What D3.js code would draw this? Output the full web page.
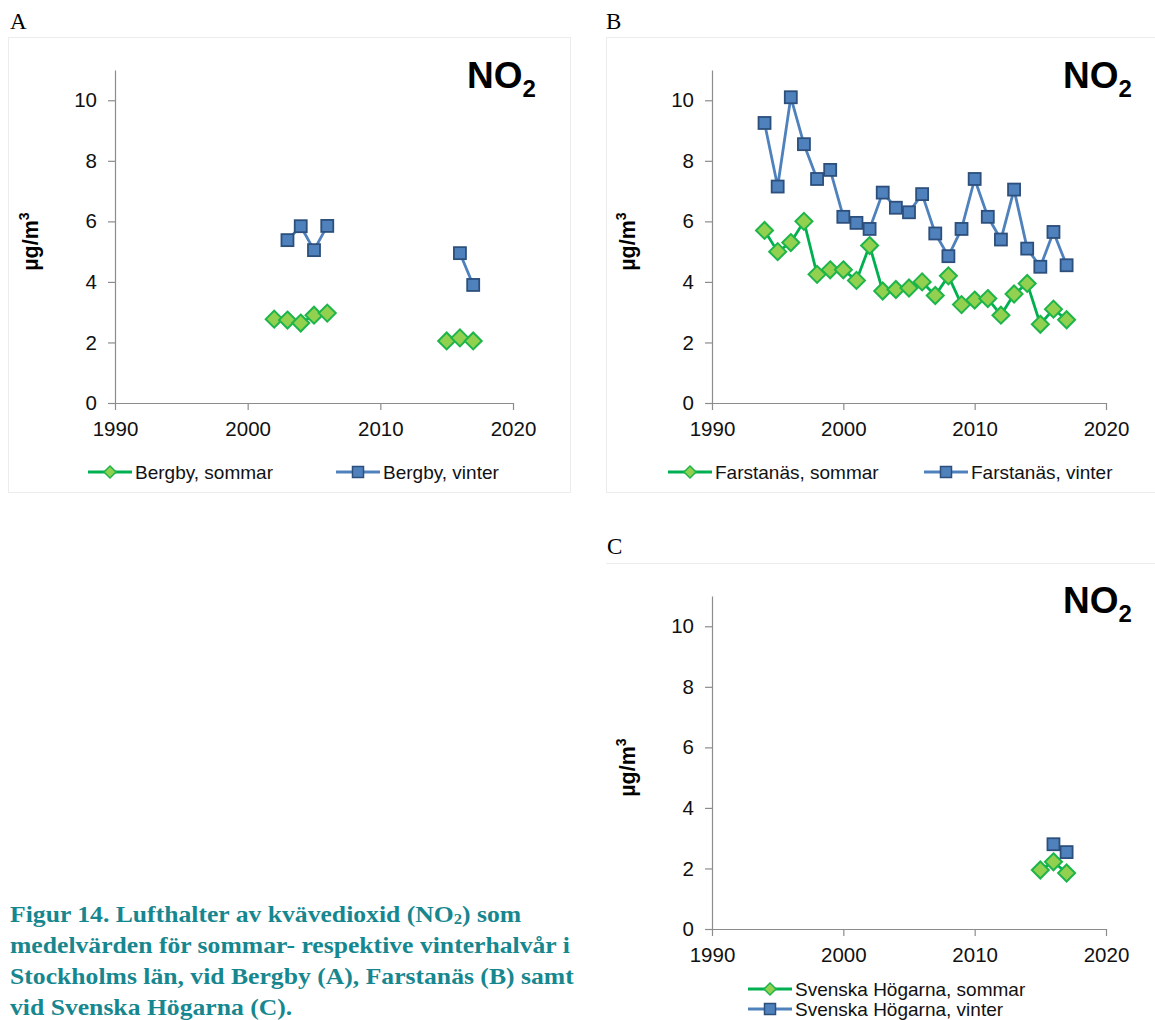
<!DOCTYPE html>
<html>
<head>
<meta charset="utf-8">
<script src="https://cdn.jsdelivr.net/npm/d3@7/dist/d3.min.js"></script>
<style>
  html, body { margin: 0; padding: 0; background: #fff; }
  svg { display: block; }
</style>
</head>
<body>
<svg id="chart" width="1155" height="1020"></svg>
<script>
// ---------- DATA ----------
const yTicks = [0, 2, 4, 6, 8, 10];
const xTicks = [1990, 2000, 2010, 2020];

const bergbyYears   = [2002, 2003, 2004, 2005, 2006, 2007, 2008, 2009, 2010, 2011, 2012, 2013, 2014, 2015, 2016, 2017];
const bergbySommar  = [2.77, 2.74, 2.64, 2.9, 2.97, null, null, null, null, null, null, null, null, 2.05, 2.15, 2.05];
const bergbyVinter  = [null, 5.38, 5.84, 5.05, 5.85, null, null, null, null, null, null, null, null, null, 4.95, 3.9];

const farstanasYears  = [1994, 1995, 1996, 1997, 1998, 1999, 2000, 2001, 2002, 2003, 2004, 2005, 2006, 2007, 2008, 2009, 2010, 2011, 2012, 2013, 2014, 2015, 2016, 2017];
const farstanasSommar = [5.7, 5.0, 5.3, 6.0, 4.25, 4.4, 4.4, 4.05, 5.2, 3.7, 3.75, 3.8, 4.0, 3.55, 4.2, 3.25, 3.4, 3.45, 2.9, 3.6, 3.95, 2.6, 3.1, 2.75];
const farstanasVinter = [9.25, 7.15, 10.1, 8.55, 7.4, 7.7, 6.15, 5.95, 5.75, 6.95, 6.45, 6.3, 6.9, 5.6, 4.85, 5.75, 7.4, 6.15, 5.4, 7.05, 5.1, 4.5, 5.65, 4.55];

const hogarnaYears  = [2015, 2016, 2017];
const hogarnaSommar = [1.95, 2.22, 1.85];
const hogarnaVinter = [null, 2.8, 2.54];

const panelLetters = ["A", "B", "C"];
const seriesNamesA = ["Bergby, sommar", "Bergby, vinter"];
const seriesNamesB = ["Farstanäs, sommar", "Farstanäs, vinter"];
const seriesNamesC = ["Svenska Högarna, sommar", "Svenska Högarna, vinter"];

const captionLines = [
  ["Figur 14. Lufthalter av kvävedioxid (NO", "2", ") som"],
  ["medelvärden för sommar- respektive vinterhalvår i"],
  ["Stockholms län, vid Bergby (A), Farstanäs (B) samt"],
  ["vid Svenska Högarna (C)."]
];

// ---------- STYLE ----------
const GREEN_LINE = "#00b050", GREEN_FILL = "#92d050", GREEN_STROKE = "#1db54a";
const BLUE_LINE = "#4f81bd", BLUE_FILL = "#4f81bd", BLUE_STROKE = "#2c4f7c";
const AXIS = "#8c8c8c";
const FONT = "'Liberation Sans', Arial, sans-serif";

const svg = d3.select("#chart");
svg.append("rect").attr("width", 1155).attr("height", 1020).attr("fill", "#fff");

function diamond(sel, s) {
  return sel.attr("d", `M0,${-s}L${s},0L0,${s}L${-s},0Z`);
}

function drawPanel(cfg) {
  const x = d3.scaleLinear().domain([1990, 2020]).range([cfg.left, cfg.right]);
  const y = d3.scaleLinear().domain([0, 11]).range([cfg.bottom, cfg.top]);
  const g = svg.append("g");

  // axes
  const ya = g.append("g").attr("transform", `translate(${cfg.left},0)`)
    .call(d3.axisLeft(y).tickValues(yTicks).tickSize(7).tickSizeOuter(0).tickPadding(11));
  const xa = g.append("g").attr("transform", `translate(0,${cfg.bottom})`)
    .call(d3.axisBottom(x).tickValues(xTicks).tickFormat(d3.format("d")).tickSize(7).tickSizeOuter(0).tickPadding(11));
  [ya, xa].forEach(a => {
    a.selectAll("path, line").attr("stroke", AXIS).attr("stroke-width", 1.2);
    a.selectAll("text").attr("font-family", FONT).attr("font-size", 20.5).attr("fill", "#111");
  });

  // y label
  const yl = g.append("text")
    .attr("transform", `translate(${cfg.left - 77},${(y(0) + y(10)) / 2 - 10}) rotate(-90)`)
    .attr("text-anchor", "middle").attr("font-family", FONT).attr("font-weight", "bold")
    .attr("font-size", 21.5).attr("fill", "#000");
  yl.append("tspan").text("µg/m");
  yl.append("tspan").attr("font-size", 14).attr("dy", -9).text("3");

  // NO2 title
  const t = g.append("text").attr("x", cfg.titleX).attr("y", cfg.titleY)
    .attr("font-family", FONT).attr("font-weight", "bold").attr("font-size", 37).attr("fill", "#000");
  t.append("tspan").text("NO");
  t.append("tspan").attr("font-size", 24).attr("dy", 9).text("2");

  // data series
  const years = cfg.years;
  const sets = [
    { vals: cfg.sommar, line: GREEN_LINE, fill: GREEN_FILL, stroke: GREEN_STROKE, shape: "d" },
    { vals: cfg.vinter, line: BLUE_LINE, fill: BLUE_FILL, stroke: BLUE_STROKE, shape: "s" }
  ];
  sets.forEach(s => {
    const pts = years.map((yr, i) => ({ yr, v: s.vals[i] }));
    const line = d3.line().defined(d => d.v != null).x(d => x(d.yr)).y(d => y(d.v));
    g.append("path").datum(pts).attr("d", line).attr("fill", "none")
      .attr("stroke", s.line).attr("stroke-width", 2.8).attr("stroke-linejoin", "round");
    const valid = pts.filter(d => d.v != null);
    if (s.shape === "d") {
      g.selectAll(null).data(valid).enter().append("path")
        .call(diamond, 8.5)
        .attr("transform", d => `translate(${x(d.yr)},${y(d.v)})`)
        .attr("fill", s.fill).attr("stroke", s.stroke).attr("stroke-width", 2);
    } else {
      g.selectAll(null).data(valid).enter().append("rect")
        .attr("x", d => x(d.yr) - 6).attr("y", d => y(d.v) - 6)
        .attr("width", 12).attr("height", 12)
        .attr("fill", s.fill).attr("stroke", s.stroke).attr("stroke-width", 1.8);
    }
  });

  // legend
  cfg.legend.forEach((it, i) => {
    const s = sets[i];
    const lg = g.append("g");
    lg.append("line").attr("x1", it.x).attr("x2", it.x + 44).attr("y1", it.y).attr("y2", it.y)
      .attr("stroke", s.line).attr("stroke-width", 2.8);
    if (s.shape === "d") {
      lg.append("path").call(diamond, 6).attr("transform", `translate(${it.x + 22},${it.y})`)
        .attr("fill", s.fill).attr("stroke", s.stroke).attr("stroke-width", 1.5);
    } else {
      lg.append("rect").attr("x", it.x + 22 - 5.5).attr("y", it.y - 5.5).attr("width", 11).attr("height", 11)
        .attr("fill", s.fill).attr("stroke", s.stroke).attr("stroke-width", 1.5);
    }
    lg.append("text").attr("x", it.x + 47).attr("y", it.y + 7)
      .attr("font-family", FONT).attr("font-size", 19).attr("fill", "#111").text(cfg.names[i]);
  });
}

// panel frames (very light)
const frame = "#ececec";
svg.append("rect").attr("x", 8.5).attr("y", 37.5).attr("width", 562).attr("height", 455)
  .attr("fill", "none").attr("stroke", frame);
svg.append("rect").attr("x", 606.5).attr("y", 37.5).attr("width", 560).attr("height", 455)
  .attr("fill", "none").attr("stroke", frame);
svg.append("line").attr("x1", 606).attr("x2", 1155).attr("y1", 563.5).attr("y2", 563.5).attr("stroke", frame);

// panel letters
const letterPos = [[10, 29], [606, 29], [607, 554]];
panelLetters.forEach((L, i) => {
  svg.append("text").attr("x", letterPos[i][0]).attr("y", letterPos[i][1])
    .attr("font-family", "'Liberation Serif', 'Times New Roman', serif").attr("font-size", 23)
    .attr("fill", "#000").text(L);
});

drawPanel({
  left: 115, right: 513, top: 70, bottom: 403, titleX: 467, titleY: 88,
  years: bergbyYears, sommar: bergbySommar, vinter: bergbyVinter, names: seriesNamesA,
  legend: [{ x: 88, y: 472 }, { x: 336, y: 472 }]
});
drawPanel({
  left: 712, right: 1106, top: 70, bottom: 403, titleX: 1063, titleY: 88,
  years: farstanasYears, sommar: farstanasSommar, vinter: farstanasVinter, names: seriesNamesB,
  legend: [{ x: 668, y: 472 }, { x: 924, y: 472 }]
});
drawPanel({
  left: 712, right: 1106, top: 596, bottom: 929, titleX: 1063, titleY: 613,
  years: hogarnaYears, sommar: hogarnaSommar, vinter: hogarnaVinter, names: seriesNamesC,
  legend: [{ x: 748, y: 989 }, { x: 748, y: 1009 }]
});

// caption
const capG = svg.append("g");
const cap = capG.append("text").attr("font-family", "'Liberation Serif', 'Times New Roman', serif")
  .attr("font-weight", "bold").attr("font-size", 23).attr("fill", "#17878f");
const capSpans = [];
captionLines.forEach((parts, i) => {
  const line = cap.append("tspan").attr("x", 0).attr("y", 922 + i * 31);
  line.text(parts[0]);
  capSpans.push(line);
  if (parts.length > 1) {
    cap.append("tspan").attr("font-size", "0.65em").attr("dy", 2).text(parts[1]);
    cap.append("tspan").attr("dy", -2).text(parts[2]);
  }
});
// widen glyphs so that the second line spans ~10..570 as in the reference
const w2 = capSpans[1].node().getComputedTextLength();
capG.attr("transform", `translate(10,0) scale(${560 / w2},1)`);
</script>
</body>
</html>
